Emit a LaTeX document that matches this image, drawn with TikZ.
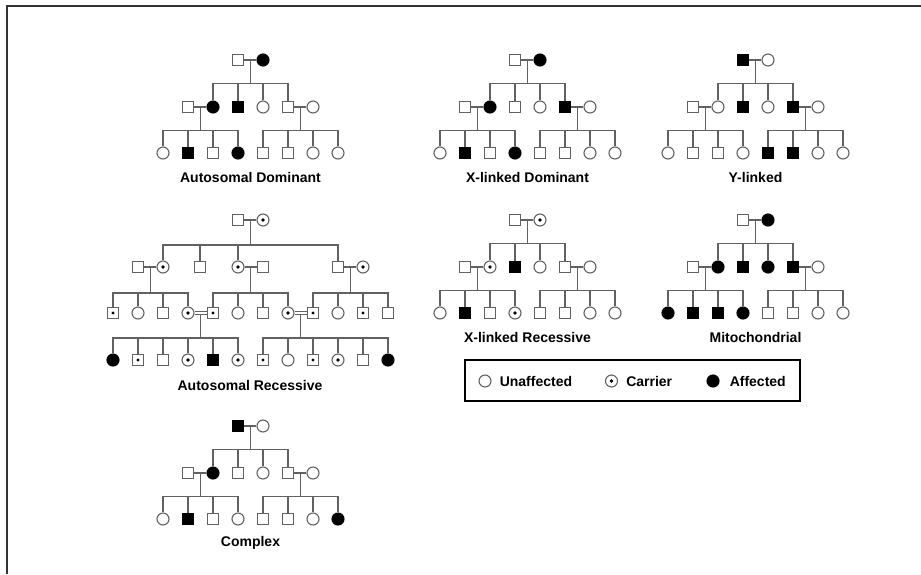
\documentclass[tikz,border=0pt]{standalone}
\usepackage{fontspec}
\setmainfont{Liberation Sans}
\usetikzlibrary{positioning, calc}

\definecolor{pedgray}{gray}{0.38}

% three generations: name, left x, top y, parents, 2nd row, 3rd row, caption
\newcommand{\threegen}[7]{%
    \foreach \s [count=\i] in {#4} \node (#1-1-\i) [\s] at (#2+50+25*\i, #3) {};
    \foreach \s [count=\i] in {#5} \node (#1-2-\i) [\s] at (#2+25*\i, #3+47) {};
    \foreach \s [count=\i] in {#6} \node (#1-3-\i) [\s] at (#2+25*\i-25, #3+93) {};
    \draw [link] (#1-1-1) -- (#1-1-2);
    \draw [link] (#1-2-1) -- (#1-2-2);
    \draw [link] (#1-2-5) -- (#1-2-6);
    \foreach \k in {2,...,5} \draw [link] ($(#1-1-1)!.5!(#1-1-2)$) -- ++(0,23.5) -| (#1-2-\k.north);
    \foreach \k in {1,...,4} \draw [link] ($(#1-2-1)!.5!(#1-2-2)$) -- ++(0,23.5) -| (#1-3-\k.north);
    \foreach \k in {5,...,8} \draw [link] ($(#1-2-5)!.5!(#1-2-6)$) -- ++(0,23.5) -| (#1-3-\k.north);
    \node (#1-cap) at (#2+87.5, #3+117) {#7};
}

\begin{document}
\begin{tikzpicture}[x=1pt, y=-1pt, font=\fontsize{14}{16}\selectfont\bfseries]
    \tikzstyle{male} = [rectangle, draw=pedgray, line width=1.1pt, minimum size=11pt, inner sep=0pt]
    \tikzstyle{female} = [circle, draw=pedgray, line width=1.1pt, minimum size=12pt, inner sep=0pt]
    \tikzstyle{maleaff} = [male, draw=black, fill=black]
    \tikzstyle{femaleaff} = [female, draw=black, fill=black]
    \tikzstyle{malecar} = [male, path picture={\fill[black] (path picture bounding box.center) circle (1.6pt);}]
    \tikzstyle{femalecar} = [female, path picture={\fill[black] (path picture bounding box.center) circle (1.8pt);}]
    \tikzstyle{link} = [draw=pedgray, line width=1.1pt]
    \tikzstyle{keybox} = [rectangle, draw=black, line width=2pt, minimum width=335pt, minimum height=41pt]

    \useasboundingbox (0,0) rectangle (921,574);
    \draw [draw=black!80, line width=1.3pt] (7,574) -- (7,6) -- (921,6);

    \threegen{ad}{163}{60}{male, femaleaff}
        {male, femaleaff, maleaff, female, male, female}
        {female, maleaff, male, femaleaff, male, male, female, female}{Autosomal Dominant}
    \threegen{xd}{440}{60}{male, femaleaff}
        {male, femaleaff, male, female, maleaff, female}
        {female, maleaff, male, femaleaff, male, male, female, female}{X-linked Dominant}
    \threegen{yl}{668}{60}{maleaff, female}
        {male, female, maleaff, female, maleaff, female}
        {female, male, male, female, maleaff, maleaff, female, female}{Y-linked}
    \threegen{xr}{440}{220}{male, femalecar}
        {male, femalecar, maleaff, female, male, female}
        {female, maleaff, male, femalecar, male, male, female, female}{X-linked Recessive}
    \threegen{mt}{668}{220}{male, femaleaff}
        {male, femaleaff, maleaff, femaleaff, maleaff, female}
        {femaleaff, maleaff, maleaff, femaleaff, male, male, female, female}{Mitochondrial}
    \threegen{cx}{163}{426}{maleaff, female}
        {male, femaleaff, male, female, male, female}
        {female, maleaff, male, female, male, male, female, femaleaff}{Complex}

    % autosomal recessive
    \node (ar-1-1) [male] at (238,220) {};
    \node (ar-1-2) [femalecar] at (263,220) {};
    \foreach \s/\x [count=\i] in {male/138, femalecar/163, male/200, femalecar/238, male/263, male/338, femalecar/363}
        \node (ar-2-\i) [\s] at (\x,267) {};
    \foreach \s [count=\i] in {malecar, female, male, femalecar, malecar, female, male, femalecar, malecar, female, malecar, male}
        \node (ar-3-\i) [\s] at (88+25*\i,313) {};
    \foreach \s [count=\i] in {femaleaff, malecar, male, femalecar, maleaff, femalecar, malecar, female, malecar, femalecar, male, femaleaff}
        \node (ar-4-\i) [\s] at (88+25*\i,360) {};
    \draw [link] (ar-1-1) -- (ar-1-2);
    \draw [link] (ar-2-1) -- (ar-2-2);
    \draw [link] (ar-2-4) -- (ar-2-5);
    \draw [link] (ar-2-6) -- (ar-2-7);
    \draw [link, double, double distance=2pt] (ar-3-4) -- (ar-3-5);
    \draw [link, double, double distance=2pt] (ar-3-8) -- (ar-3-9);
    \foreach \k in {2,3,4,6} \draw [link] ($(ar-1-1)!.5!(ar-1-2)$) -- ++(0,25) -| (ar-2-\k.north);
    \foreach \k in {1,...,4} \draw [link] ($(ar-2-1)!.5!(ar-2-2)$) -- ++(0,26) -| (ar-3-\k.north);
    \foreach \k in {5,...,8} \draw [link] ($(ar-2-4)!.5!(ar-2-5)$) -- ++(0,26) -| (ar-3-\k.north);
    \foreach \k in {9,...,12} \draw [link] ($(ar-2-6)!.5!(ar-2-7)$) -- ++(0,26) -| (ar-3-\k.north);
    \foreach \k in {1,...,6} \draw [link] ($(ar-3-4)!.5!(ar-3-5)$) ++(0,1.6) -- ++(0,23.4) -| (ar-4-\k.north);
    \foreach \k in {7,...,12} \draw [link] ($(ar-3-8)!.5!(ar-3-9)$) ++(0,1.6) -- ++(0,23.4) -| (ar-4-\k.north);
    \node (ar-cap) at (250,385) {Autosomal Recessive};

    % key
    \node (key) [keybox] at (632.5,380.5) {};
    \node (key1) [female] at (485,381) {};
    \node (key1 text) [right=8pt of key1, inner sep=0pt] {Unaffected};
    \node (key2) [femalecar] at (611.5,381) {};
    \node (key2 text) [right=8pt of key2, inner sep=0pt] {Carrier};
    \node (key3) [femaleaff] at (713,381) {};
    \node (key3 text) [right=10pt of key3, inner sep=0pt] {Affected};
\end{tikzpicture}
\end{document}
